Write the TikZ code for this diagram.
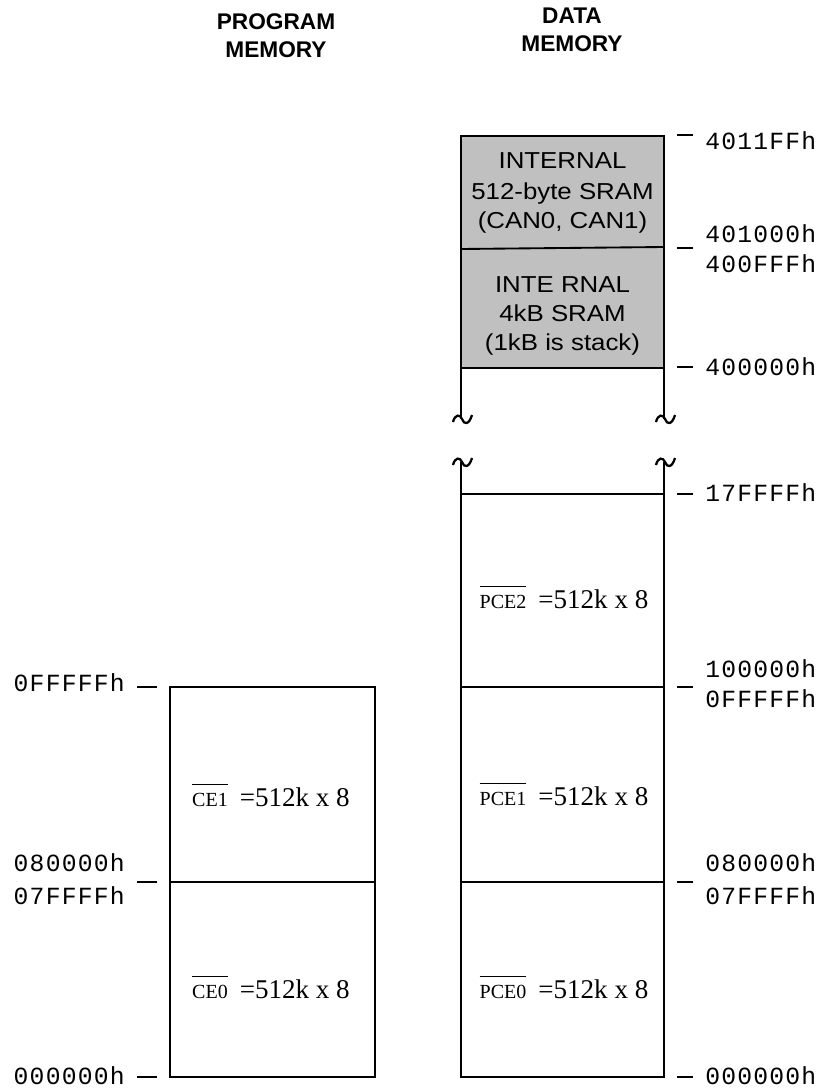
\documentclass[tikz,border=0pt]{standalone}
\usepackage{fontspec}
\setmainfont{Liberation Serif}
\newfontfamily\headfont{Liberation Sans}
\newfontfamily\boxfont[FakeStretch=1.12]{Liberation Sans}
\newfontfamily\addrfont[LetterSpace=5]{Liberation Mono}
\definecolor{memgray}{RGB}{192,192,192}
\newcommand\ovl[1]{\setbox0\hbox{\fontsize{15}{16}\selectfont #1}\rlap{\rule[15.5pt]{\wd0}{0.9pt}}\box0}
\tikzset{
  memline/.style={line width=1.4pt, line cap=butt},
  breakmark/.style={line width=1.7pt},
  tick/.style={line width=1.4pt},
  head/.style={font=\headfont\bfseries\fontsize{17}{20}\selectfont, inner sep=0pt, anchor=base},
  boxtxt/.style={font=\boxfont\fontsize{17.3}{20}\selectfont, inner sep=0pt, anchor=base},
  celabel/.style={font=\fontsize{20.3}{24}\selectfont, inner sep=0pt, anchor=base},
  raddr/.style={font=\addrfont\fontsize{18.5}{20}\selectfont, inner sep=0pt, anchor=base west},
  laddr/.style={font=\addrfont\fontsize{18.5}{20}\selectfont, inner sep=0pt, anchor=base east},
}
\begin{document}
\begin{tikzpicture}[x=0.75pt,y=-0.75pt]
\useasboundingbox (0,0) rectangle (828,1088);

% headings
\node[head] (ph1) at (276,30) {PROGRAM};
\node[head] (ph2) at (276,58) {MEMORY};
\node[head] (dh1) at (572,24) {DATA};
\node[head] (dh2) at (572,52) {MEMORY};

% ---------- program memory ----------
\coordinate (pTL) at (170,687);
\coordinate (pBR) at (375,1077);
\draw[memline] (pTL) rectangle (pBR);
\draw[memline] (170,882) -- (375,882);
\node[celabel] (ce1) at (271,806) {\ovl{CE1}\hspace{9pt}=512k x 8};
\node[celabel] (ce0) at (271,998) {\ovl{CE0}\hspace{9pt}=512k x 8};

% left ticks and labels
\draw[tick] (137,687) -- (157,687);
\draw[tick] (137,882) -- (157,882);
\draw[tick] (137,1077) -- (157,1077);
\node[laddr] (a1) at (125,691) {0FFFFFh};
\node[laddr] (a2) at (125,871) {080000h};
\node[laddr] (a3) at (125,904) {07FFFFh};
\node[laddr] (a4) at (125,1084) {000000h};

% ---------- data memory ----------
\fill[memgray] (461,136) -- (664,136) -- (664,368) -- (461,368) -- cycle;
\draw[memline] (461,419) -- (461,136) -- (664,136) -- (664,419);
\draw[memline] (461,249) -- (664,247);
\draw[memline] (461,368) -- (664,368);
% break marks
\draw[breakmark] (453,422) .. controls (455,414) and (460,414) .. (462,419) .. controls (464,425) and (469,425) .. (472,415);
\draw[breakmark] (656,422) .. controls (658,414) and (663,414) .. (665,419) .. controls (667,425) and (672,425) .. (675,415);
\draw[breakmark] (453,465) .. controls (455,457) and (460,457) .. (462,462) .. controls (464,468) and (469,468) .. (472,458);
\draw[breakmark] (656,465) .. controls (658,457) and (663,457) .. (665,462) .. controls (667,468) and (672,468) .. (675,458);
\draw[memline] (461,462) -- (461,1077) -- (664,1077) -- (664,462);
\draw[memline] (461,494) -- (664,494);
\draw[memline] (461,687) -- (664,687);
\draw[memline] (461,882) -- (664,882);

\node[boxtxt] (t1) at (562.5,168) {INTERNAL};
\node[boxtxt] (t2) at (562.5,199) {512-byte SRAM};
\node[boxtxt] (t3) at (562.5,228) {(CAN0, CAN1)};
\node[boxtxt] (t4) at (562.5,292) {INTE RNAL};
\node[boxtxt] (t5) at (562.5,321) {4kB SRAM};
\node[boxtxt] (t6) at (562.5,350) {(1kB is stack)};

\node[celabel] (pce2) at (564,608) {\ovl{PCE2}\hspace{9pt}=512k x 8};
\node[celabel] (pce1) at (564,805) {\ovl{PCE1}\hspace{9pt}=512k x 8};
\node[celabel] (pce0) at (564,998) {\ovl{PCE0}\hspace{9pt}=512k x 8};

% right ticks and labels
\foreach \yy in {135,248,367,494,687,882,1077}
  \draw[tick] (677,\yy) -- (693,\yy);
\node[raddr] (r1) at (705,149) {4011FFh};
\node[raddr] (r2) at (705,242) {401000h};
\node[raddr] (r3) at (705,272) {400FFFh};
\node[raddr] (r4) at (705,375) {400000h};
\node[raddr] (r5) at (705,501) {17FFFFh};
\node[raddr] (r6) at (705,677) {100000h};
\node[raddr] (r7) at (705,707) {0FFFFFh};
\node[raddr] (r8) at (705,871) {080000h};
\node[raddr] (r9) at (705,904) {07FFFFh};
\node[raddr] (r10) at (705,1084) {000000h};
\end{tikzpicture}
\end{document}
